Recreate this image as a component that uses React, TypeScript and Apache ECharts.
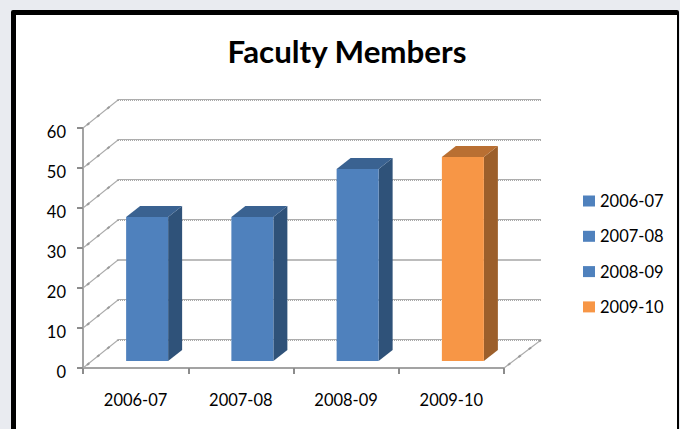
import React, { useEffect, useRef } from "react";
import * as echarts from "echarts";

const categories = ["2006-07", "2007-08", "2008-09", "2009-10"];
const values = [36, 36, 48, 51];
const tickValues = [0, 10, 20, 30, 40, 50, 60];
const fronts = ["#4f81bd", "#4f81bd", "#4f81bd", "#f79646"];
const tops = ["#3a6291", "#3a6291", "#3a6291", "#b96f32"];
const sides = ["#2f5279", "#2f5279", "#2f5279", "#9c5f2b"];
const FONT = "Lato";

const BACK_DX = 35, BACK_DY = -28, BACK_EXTRA = 2;
const BAR_DX = 11.5, BAR_DY = -7, BAR_W = 42, DEPTH_X = 14, DEPTH_Y = -11;

const wallItem = (params: any, api: any) => {
  const v = api.value(0);
  const cs = params.coordSys;
  const y = Math.round(api.coord([0, v])[1]);
  const x0 = cs.x, x1 = cs.x + cs.width;
  const ya = y + BACK_DY;
  const xa = x0 + BACK_DX, xb = x1 + BACK_DX + BACK_EXTRA;
  const diag = { stroke: "#ababab", lineWidth: 1.1 };
  const dabs = { stroke: "#9a9a9a", lineWidth: 2, lineDash: [3, 10] };
  const children: any[] = [];
  if (v === 20) {
    children.push({ type: "line", shape: { x1: xa, y1: ya, x2: xb, y2: ya }, style: { stroke: "#a6a6a6", lineWidth: 1.5 } });
  } else {
    children.push(
      { type: "line", shape: { x1: xa, y1: ya - 0.5, x2: xb, y2: ya - 0.5 }, style: { stroke: "#adadad", lineWidth: 1 } },
      { type: "line", shape: { x1: xa, y1: ya + 0.5, x2: xb, y2: ya + 0.5 }, style: { stroke: "#a8a8a8", lineWidth: 1, lineDash: [1, 1] } },
    );
  }
  children.push(
    { type: "line", shape: { x1: x0, y1: y, x2: xa, y2: ya }, style: diag },
    { type: "line", shape: { x1: x0 + 4, y1: y - 3, x2: xa, y2: ya }, style: dabs },
  );
  if (v === 0) {
    children.push(
      { type: "line", shape: { x1, y1: y, x2: xb, y2: ya }, style: diag },
      { type: "line", shape: { x1: x1 + 4, y1: y - 3, x2: xb, y2: ya }, style: dabs },
    );
  }
  return { type: "group", children };
};

const barItem = (i: number) => (_params: any, api: any) => {
  const p = api.coord([api.value(0), api.value(1)]);
  const b = api.coord([api.value(0), 0]);
  const x = p[0] + BAR_DX - BAR_W / 2;
  const xr = x + BAR_W;
  const top = p[1] + BAR_DY;
  const bottom = b[1] + BAR_DY;
  return {
    type: "group",
    children: [
      { type: "polygon", shape: { points: [[xr, top], [xr + DEPTH_X, top + DEPTH_Y], [xr + DEPTH_X, bottom + DEPTH_Y], [xr, bottom]] }, style: { fill: sides[i] } },
      { type: "polygon", shape: { points: [[x, top], [x + DEPTH_X, top + DEPTH_Y], [xr + DEPTH_X, top + DEPTH_Y], [xr, top]] }, style: { fill: tops[i] } },
      { type: "rect", shape: { x, y: top, width: BAR_W, height: bottom - top }, style: { fill: fronts[i] } },
    ],
  };
};

export default function App() {
  const ref = useRef<HTMLDivElement>(null);
  useEffect(() => {
    const chart = echarts.init(ref.current!, undefined, { renderer: "svg" });
    chart.setOption({
      animation: false,
      backgroundColor: "transparent",
      title: {
        text: "Faculty Members",
        left: 342,
        top: 30,
        textAlign: "center",
        textStyle: { fontFamily: FONT, fontSize: 31.3, fontWeight: "bold", color: "#000" },
      },
      legend: {
        data: categories,
        orient: "vertical",
        left: 578,
        top: 186,
        itemWidth: 12,
        itemHeight: 11,
        itemGap: 15.3,
        icon: "rect",
        itemStyle: { borderWidth: 0 },
        textStyle: { fontFamily: FONT, fontSize: 16.5, color: "#000", lineHeight: 20 },
      },
      grid: { left: 83, top: 128, width: 421, height: 240 },
      xAxis: {
        type: "category",
        data: categories,
        axisLine: { lineStyle: { color: "#a3a3a3", width: 2 } },
        axisTick: { show: true, length: 6, lineStyle: { color: "#8c8c8c", width: 2 } },
        axisLabel: { fontFamily: FONT, fontSize: 16.5, color: "#000", margin: 23 },
      },
      yAxis: {
        type: "value",
        min: 0,
        max: 60,
        interval: 10,
        axisLine: { show: true, lineStyle: { color: "#a3a3a3", width: 2 } },
        axisTick: { show: true, length: 6, lineStyle: { color: "#8c8c8c", width: 2 } },
        splitLine: { show: false },
        axisLabel: { fontFamily: FONT, fontSize: 16.5, color: "#000", margin: 17, verticalAlign: "top", lineHeight: 8 },
      },
      series: [
        {
          type: "custom",
          name: "walls",
          z: 1,
          silent: true,
          renderItem: wallItem,
          data: tickValues.map((v) => [v]),
          encode: { y: 0 },
        },
        ...categories.map((c, i) => ({
          type: "custom",
          name: c,
          z: 2 + i,
          itemStyle: { color: fronts[i] },
          renderItem: barItem(i),
          data: [[i, values[i]]],
          encode: { x: 0, y: 1 },
        })),
      ],
    });
    return () => chart.dispose();
  }, []);
  return (
    <div style={{ position: "fixed", left: 0, top: 0, width: 680, height: 429, background: "#e9ebf0", overflow: "hidden" }}>
      <div style={{ position: "absolute", left: 11, top: 10, width: 668, height: 430, boxSizing: "border-box", border: "5px solid #000", borderRightWidth: 2, borderRadius: 2, background: "#fff" }} />
      <div ref={ref} style={{ position: "absolute", left: 0, top: 0, width: 680, height: 429 }} />
    </div>
  );
}
